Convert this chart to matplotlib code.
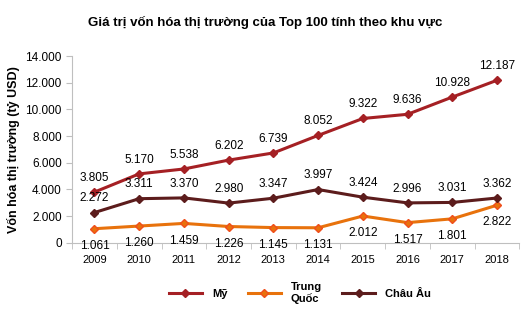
import numpy as np
import matplotlib
matplotlib.use('Agg')
import matplotlib.pyplot as plt
from matplotlib.ticker import FuncFormatter

plt.rcParams['font.family'] = ['Liberation Sans', 'DejaVu Sans']

# du lieu
years = ['2009', '2010', '2011', '2012', '2013', '2014', '2015', '2016', '2017', '2018']
my = [3805, 5170, 5538, 6202, 6739, 8052, 9322, 9636, 10928, 12187]
trung_quoc = [1061, 1260, 1459, 1226, 1145, 1131, 2012, 1517, 1801, 2822]
chau_au = [2272, 3311, 3370, 2980, 3347, 3997, 3424, 2996, 3031, 3362]


def fmt(v):
    return f'{v:,.0f}'.replace(',', '.')


fig = plt.figure(figsize=(5.3, 3.15), dpi=100)
ax = fig.add_axes([0.136, 0.229, 0.844, 0.593])
x = np.arange(len(years))

series = [
    ('Mỹ', my, '#A52024', '#A52024', 6),
    ('Trung\nQuốc', trung_quoc, '#E8720C', '#F04E1C', -8),
    ('Châu Âu', chau_au, '#5C1C1C', '#5C1C1C', 6),
]
for name, vals, c, mec, off in series:
    ax.plot(x, vals, color=c, lw=2.2, marker='D', ms=4.5, mfc=c, mec=mec, label=name)
    for xi, v in zip(x, vals):
        ax.annotate(fmt(v), (xi, v), xytext=(0, off), textcoords='offset points',
                    ha='center', va='bottom' if off > 0 else 'top', fontsize=8.5)

ax.set_xlim(-0.5, len(years) - 0.5)
ax.set_ylim(0, 14000)
ax.set_yticks(range(0, 14001, 2000))
ax.yaxis.set_major_formatter(FuncFormatter(lambda v, p: fmt(v)))
ax.set_xticks(x)
ax.set_xticklabels(years)
ax.set_xticks(np.arange(-0.5, len(years)), minor=True)
ax.tick_params(axis='x', which='major', length=0, pad=9, labelsize=8)
ax.tick_params(axis='x', which='minor', length=4, color='#BFBFBF')
ax.tick_params(axis='y', length=4, color='#BFBFBF', labelsize=8.5)
for s in ['top', 'right']:
    ax.spines[s].set_visible(False)
for s in ['left', 'bottom']:
    ax.spines[s].set_color('#BFBFBF')
ax.set_ylabel('Vốn hóa thị trường (tỷ USD)', fontsize=9, fontweight='bold')
ax.yaxis.set_label_coords(-0.116, 0.5)

fig.text(0.5, 1 - 22 / 315, 'Giá trị vốn hóa thị trường của Top 100 tính theo khu vực',
         ha='center', va='center', fontsize=9.5, fontweight='bold')

leg = fig.legend(loc='center', bbox_to_anchor=(0.566, 0.07), ncol=3, frameon=False,
                 prop={'weight': 'bold', 'size': 8}, handlelength=3.0,
                 handletextpad=0.9, columnspacing=1.8)

fig.savefig('out.png', dpi=100)
